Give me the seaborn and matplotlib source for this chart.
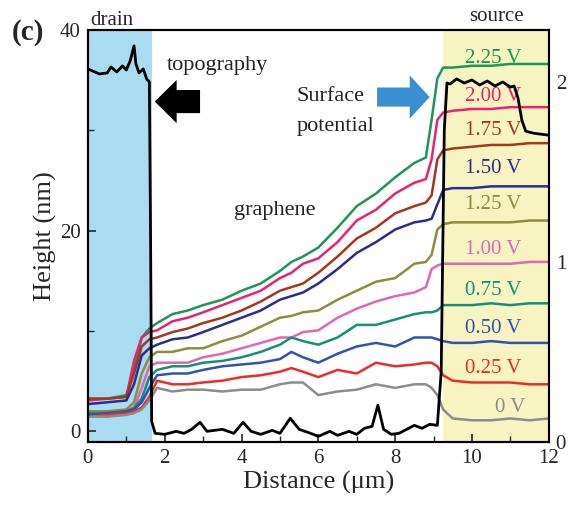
import matplotlib
matplotlib.use("Agg")
import matplotlib.pyplot as plt
from matplotlib.patches import FancyArrow
from matplotlib.ticker import MultipleLocator
import pandas as pd
import seaborn as sns

# surface potential profiles (V)
x_pot = [0, 0.5, 1.0, 1.2, 1.4, 1.6, 1.8, 2.2, 2.6, 3.0, 3.5, 4.0, 4.5, 5.0, 5.3, 5.6,
         6.0, 6.5, 7.0, 7.5, 8.0, 8.5, 8.8, 8.95, 9.1, 9.25, 9.5, 10.0, 10.5, 11.0, 11.5, 12.0]
v225 = [0.24, 0.24, 0.26, 0.40, 0.58, 0.63, 0.66, 0.71, 0.73, 0.76, 0.79, 0.84, 0.88, 0.95, 1.00, 1.03,
        1.08, 1.19, 1.31, 1.38, 1.47, 1.55, 1.58, 1.79, 2.02, 2.08, 2.08, 2.09, 2.09, 2.10, 2.10, 2.10]
v200 = [0.23, 0.24, 0.25, 0.45, 0.58, 0.61, 0.62, 0.67, 0.69, 0.72, 0.76, 0.80, 0.84, 0.91, 0.94, 0.99,
        1.02, 1.11, 1.23, 1.29, 1.38, 1.44, 1.46, 1.57, 1.79, 1.83, 1.84, 1.85, 1.85, 1.86, 1.86, 1.86]
v175 = [0.24, 0.24, 0.25, 0.38, 0.53, 0.57, 0.58, 0.61, 0.63, 0.66, 0.69, 0.73, 0.78, 0.84, 0.86, 0.88,
        0.94, 1.03, 1.13, 1.19, 1.27, 1.31, 1.33, 1.37, 1.57, 1.62, 1.63, 1.64, 1.65, 1.65, 1.66, 1.66]
v150 = [0.21, 0.22, 0.23, 0.32, 0.48, 0.52, 0.54, 0.57, 0.58, 0.61, 0.65, 0.69, 0.73, 0.79, 0.81, 0.83,
        0.88, 0.96, 1.05, 1.11, 1.18, 1.22, 1.23, 1.24, 1.32, 1.40, 1.41, 1.41, 1.42, 1.42, 1.42, 1.42]
v125 = [0.17, 0.17, 0.18, 0.22, 0.38, 0.47, 0.50, 0.50, 0.52, 0.52, 0.56, 0.59, 0.64, 0.69, 0.70, 0.72,
        0.73, 0.79, 0.84, 0.89, 0.91, 0.99, 1.00, 1.04, 1.18, 1.21, 1.22, 1.22, 1.22, 1.22, 1.23, 1.23]
v100 = [0.15, 0.16, 0.17, 0.19, 0.30, 0.42, 0.44, 0.44, 0.44, 0.47, 0.49, 0.52, 0.55, 0.58, 0.58, 0.61,
        0.62, 0.69, 0.74, 0.78, 0.81, 0.83, 0.86, 0.96, 0.98, 0.99, 0.99, 0.99, 0.99, 0.99, 1.00, 1.00]
v075 = [0.16, 0.16, 0.17, 0.19, 0.24, 0.36, 0.40, 0.42, 0.42, 0.44, 0.45, 0.47, 0.50, 0.54, 0.58, 0.56,
        0.54, 0.58, 0.65, 0.65, 0.68, 0.71, 0.72, 0.72, 0.73, 0.76, 0.76, 0.76, 0.77, 0.76, 0.77, 0.77]
v050 = [0.15, 0.16, 0.17, 0.18, 0.22, 0.30, 0.37, 0.38, 0.38, 0.40, 0.42, 0.43, 0.44, 0.46, 0.50, 0.47,
        0.44, 0.49, 0.53, 0.55, 0.53, 0.58, 0.58, 0.58, 0.57, 0.56, 0.55, 0.55, 0.56, 0.55, 0.55, 0.55]
v025 = [0.14, 0.15, 0.16, 0.17, 0.19, 0.25, 0.34, 0.32, 0.32, 0.33, 0.34, 0.36, 0.37, 0.39, 0.41, 0.39,
        0.36, 0.40, 0.38, 0.44, 0.42, 0.43, 0.44, 0.44, 0.42, 0.37, 0.34, 0.33, 0.33, 0.33, 0.32, 0.32]
v000 = [0.14, 0.14, 0.15, 0.16, 0.18, 0.23, 0.30, 0.28, 0.29, 0.29, 0.28, 0.29, 0.29, 0.32, 0.33, 0.33,
        0.26, 0.28, 0.29, 0.32, 0.30, 0.32, 0.32, 0.30, 0.26, 0.18, 0.13, 0.12, 0.12, 0.13, 0.12, 0.13]

bias_labels = ["2.25 V", "2.00 V", "1.75 V", "1.50 V", "1.25 V",
               "1.00 V", "0.75 V", "0.50 V", "0.25 V", "0 V"]
bias_colors = ["#1e9656", "#e8246f", "#a3381f", "#2c2c8e", "#8e8c3e",
               "#de68b6", "#14907a", "#3452ad", "#ec2b2b", "#8c8c8c"]
label_y = [2.13, 1.92, 1.73, 1.52, 1.32, 1.07, 0.84, 0.63, 0.41, 0.19]

# topography (nm)
x_topo = [0, 0.3, 0.5, 0.6, 0.75, 0.9, 1.0, 1.1, 1.2, 1.25, 1.33, 1.44, 1.53, 1.6, 1.63, 1.66,
          1.75, 2.0, 2.3, 2.5, 2.7, 2.92, 3.1, 3.5, 3.8, 4.04, 4.25, 4.5, 4.8, 5.0, 5.27, 5.5,
          5.8, 6.0, 6.3, 6.5, 6.8, 7.0, 7.2, 7.4, 7.55, 7.7, 7.9, 8.1, 8.3, 8.5, 8.7, 8.9, 9.1,
          9.2, 9.28, 9.35, 9.43, 9.6, 9.8, 10.0, 10.2, 10.4, 10.6, 10.8, 11.0, 11.1, 11.2, 11.3,
          11.4, 11.6, 12.0]
topo = [36.1, 35.6, 35.7, 36.3, 35.8, 36.4, 36.0, 36.9, 38.4, 36.6, 35.7, 36.1, 35.1, 34.8, 20.0, 1.0,
        -0.2, -0.3, 0.0, -0.2, 0.2, 0.9, 0.0, 0.2, -0.2, 0.9, 0.0, -0.3, 0.1, -0.2, 1.3, 0.2,
        -0.2, -0.5, 0.0, -0.4, 0.0, -0.3, 0.3, 0.5, 2.6, 0.2, -0.3, -0.2, 0.2, 0.6, 0.3, 0.7, 0.6,
        6.0, 30.0, 34.7, 34.6, 35.1, 34.7, 35.0, 34.5, 34.9, 34.4, 34.8, 34.3, 34.4, 33.2, 31.0,
        29.9, 29.7, 29.5]

series = [v225, v200, v175, v150, v125, v100, v075, v050, v025, v000]
rows = []
for lab, vals in zip(bias_labels, series):
    for xv, yv in zip(x_pot, vals):
        rows.append({"x": xv, "v": yv, "label": lab})
pot_df = pd.DataFrame(rows)

sns.set_theme(style="ticks")
plt.rcParams["font.family"] = ["Liberation Serif", "DejaVu Serif"]
plt.rcParams["xtick.direction"] = "in"
plt.rcParams["ytick.direction"] = "in"
plt.rcParams["axes.linewidth"] = 1.5

fig, ax = plt.subplots(figsize=(5.71, 5.05), dpi=100)
fig.subplots_adjust(left=0.154, right=0.961, bottom=0.125, top=0.941)
ax2 = ax.twinx()

ax2.axvspan(0, 1.67, color="#a9dcf0", lw=0)
ax2.axvspan(9.25, 12, color="#f8f4c2", lw=0)
sns.lineplot(data=pot_df, x="x", y="v", hue="label", hue_order=bias_labels,
             palette=dict(zip(bias_labels, bias_colors)), legend=False,
             lw=1.8, sort=False, estimator=None, ax=ax2)
for lab, c, yy in zip(bias_labels, bias_colors, label_y):
    xx = 10.99 if lab == "0 V" else 10.55
    ax2.text(xx, yy, lab, color=c, ha="center", va="center", fontsize=15)

ax.set_zorder(ax2.get_zorder() + 1)
ax.patch.set_visible(False)
sns.lineplot(x=x_topo, y=topo, color="black", lw=2.0, sort=False, estimator=None, ax=ax)

ax.add_patch(FancyArrow(2.92, 32.85, -1.18, 0, width=2.3, head_width=4.3, head_length=0.57,
                        length_includes_head=True, color="black", lw=0))
ax.add_patch(FancyArrow(7.53, 33.3, 1.37, 0, width=1.9, head_width=4.3, head_length=0.52,
                        length_includes_head=True, color="#3a8fd2", lw=0))
ax.text(2.06, 36.4, "topography", fontsize=16, ha="left", va="center", color="#222222")
ax.text(5.44, 33.4, "Surface", fontsize=16, ha="left", va="center", color="#222222")
ax.text(5.44, 30.4, "potential", fontsize=16, ha="left", va="center", color="#222222")
ax.text(4.87, 22.0, "graphene", fontsize=16, ha="center", va="center", color="#222222")
ax.text(0.05, 1.0, "drain", fontsize=15, ha="left", va="bottom", transform=ax.get_xaxis_transform())
ax.text(10.65, 1.01, "source", fontsize=15, ha="center", va="bottom", transform=ax.get_xaxis_transform())
fig.text(0.02, 0.935, "(c)", fontsize=21, fontweight="bold", va="center", ha="left")

ax.set_xlim(0, 12)
ax.set_ylim(-1.05, 40)
ax2.set_ylim(0, 2.29)
ax.xaxis.set_major_locator(MultipleLocator(2))
ax.xaxis.set_minor_locator(MultipleLocator(1))
ax.yaxis.set_major_locator(MultipleLocator(20))
ax.yaxis.set_minor_locator(MultipleLocator(10))
ax2.yaxis.set_major_locator(MultipleLocator(1))
ax2.yaxis.set_minor_locator(MultipleLocator(0.5))
for a in (ax, ax2):
    a.tick_params(which="major", length=6, width=1.2, labelsize=15, pad=5)
    a.tick_params(which="minor", length=4, width=1.0)
    for s in a.spines.values():
        s.set_color("black")
ax.tick_params(axis="x", which="both", top=False)
ax.set_xlabel("Distance (μm)", fontsize=19, labelpad=2)
ax.set_ylabel("Height (nm)", fontsize=19, labelpad=2)
ax2.set_ylabel("")

fig.savefig("out.png", dpi=100)
